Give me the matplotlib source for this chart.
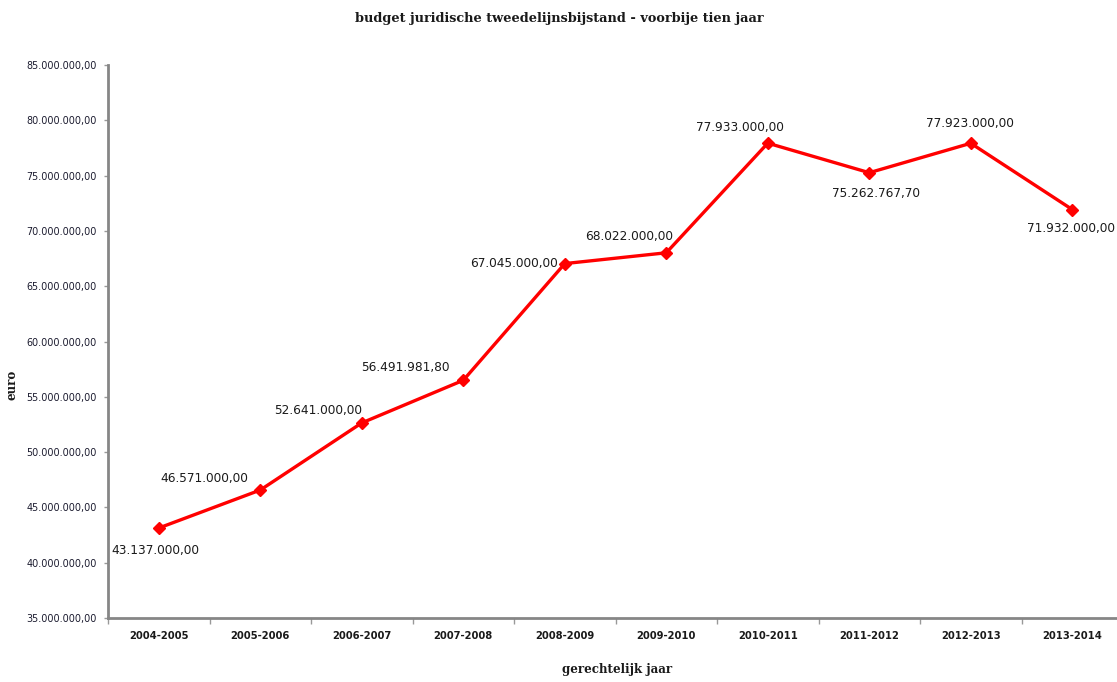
import matplotlib
matplotlib.use('Agg')
import matplotlib.pyplot as plt
from matplotlib.ticker import FuncFormatter, FixedLocator, NullFormatter

jaren = ['2004-2005', '2005-2006', '2006-2007', '2007-2008', '2008-2009',
         '2009-2010', '2010-2011', '2011-2012', '2012-2013', '2013-2014']
budget = [43137000.00, 46571000.00, 52641000.00, 56491981.80, 67045000.00,
          68022000.00, 77933000.00, 75262767.70, 77923000.00, 71932000.00]

# label offsets in pixels (dx, dy)
label_offsets = [(-3, -22), (-56, 12), (-44, 12), (-58, 13), (-51, 0),
                 (-37, 16), (-28, 16), (7, -21), (-1, 20), (-1, -19)]


def euro(v, pos=None):
    s = f'{v:,.2f}'
    return s.replace(',', 'X').replace('.', ',').replace('X', '.')


fig = plt.figure(figsize=(11.17, 6.82), dpi=100)
ax = fig.add_axes([0.0967, 0.0938, 0.9087, 0.8109])

x = list(range(len(jaren)))
ax.plot(x, budget, color='#ff0000', linewidth=2.4, marker='D', markersize=6.5)

for i, v in enumerate(budget):
    dx, dy = label_offsets[i]
    ax.annotate(euro(v), (i, v), xytext=(dx, dy), textcoords='offset pixels',
                ha='center', va='center', fontsize=8.7, color='#1a1a1a',
                family='DejaVu Sans')

ax.set_xlim(-0.5, len(jaren) - 0.5)
ax.set_ylim(35e6, 85e6)
ax.set_yticks([35e6 + 5e6 * k for k in range(11)])
ax.yaxis.set_major_formatter(FuncFormatter(euro))

ax.set_xticks(x)
ax.set_xticklabels(jaren)
ax.tick_params(axis='x', which='major', length=0, pad=9, labelsize=7.2,
               labelcolor='#1a1a1a')
ax.xaxis.set_minor_locator(FixedLocator([i - 0.5 for i in range(len(jaren) + 1)]))
ax.xaxis.set_minor_formatter(NullFormatter())
ax.tick_params(axis='x', which='minor', length=4, width=1, color='#999999')
ax.tick_params(axis='y', length=3, width=1, color='#999999', labelsize=6.9,
               labelcolor='#1a1a2e', pad=5)

for lbl in ax.get_xticklabels():
    lbl.set_fontweight('bold')

for s in ['top', 'right']:
    ax.spines[s].set_visible(False)
for s in ['left', 'bottom']:
    ax.spines[s].set_color('#868686')
    ax.spines[s].set_linewidth(2)

fig.text(0.501, 0.973, 'budget juridische tweedelijnsbijstand - voorbije tien jaar',
         ha='center', va='center', fontsize=9.3, fontweight='bold',
         family='DejaVu Serif', color='#1a1a1a')
fig.text(0.552, 0.018, 'gerechtelijk jaar', ha='center', va='center',
         fontsize=8.6, fontweight='bold', family='DejaVu Serif', color='#1a1a1a')
fig.text(0.011, 0.435, 'euro', ha='center', va='center', rotation=90,
         fontsize=8.6, fontweight='bold', family='DejaVu Serif', color='#1a1a1a')

fig.savefig('out.png', dpi=100)
